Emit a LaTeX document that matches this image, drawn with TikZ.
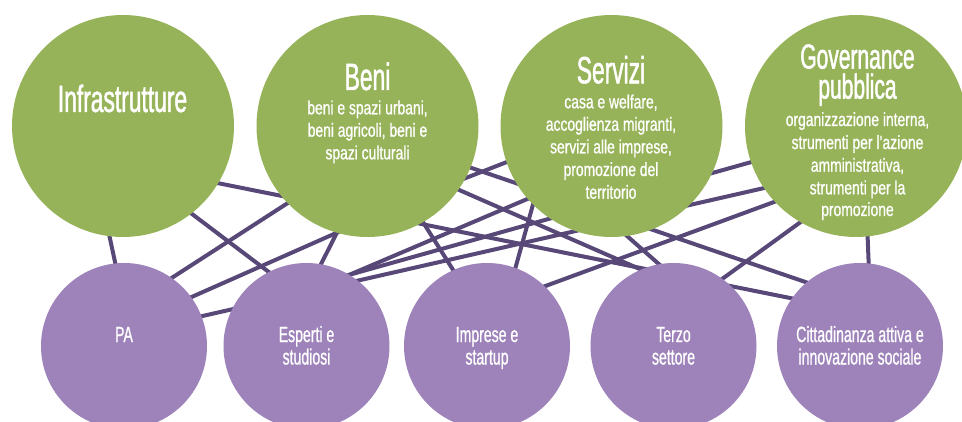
\documentclass[tikz,border=0pt]{standalone}
\usepackage{fontspec}
\setmainfont{Liberation Sans}
\newfontfamily\titlefont[FakeStretch=0.6,FakeBold=1.2]{Liberation Sans}
\newfontfamily\bodyfont[FakeStretch=0.73,FakeBold=0.8]{Liberation Sans}
\newfontfamily\actfont[FakeStretch=0.64,FakeBold=0.8]{Liberation Sans}
\definecolor{gr}{HTML}{97B35A}
\definecolor{pu}{HTML}{9E82BA}
\definecolor{ln}{HTML}{574878}
\pgfdeclarelayer{bg}
\pgfsetlayers{bg,main}
\begin{document}
\begin{tikzpicture}[x=1pt,y=1pt,
  topic/.style={circle,fill=gr,minimum size=222pt,inner sep=0pt,outer sep=0pt,draw=none},
  actor/.style={circle,fill=pu,minimum size=166pt,inner sep=0pt,outer sep=0pt,draw=none},
  ttl/.style={text=white,font=\titlefont\fontsize{38}{38}\selectfont,anchor=base,inner sep=0pt},
  ttlg/.style={text=white,font=\titlefont\fontsize{35}{30}\selectfont,align=center,anchor=north,inner sep=0pt},
  bdy/.style={text=white,font=\bodyfont\fontsize{19}{19}\selectfont,anchor=base,inner sep=0pt},
  act/.style={text=white,font=\actfont\fontsize{22}{22}\selectfont,anchor=base,inner sep=0pt},
  link/.style={draw=ln,line width=4pt,shorten <=-3pt,shorten >=-3pt}]
\useasboundingbox (0,0) rectangle (962,-422);
% topics
\node[topic] (infra) at (123,-126) {};
\node[topic] (beni) at (367.5,-126) {};
\node[topic] (serv) at (611.5,-126) {};
\node[topic] (gov) at (856,-126) {};
% actors
\node[actor] (pa) at (124,-346) {};
\node[actor] (esp) at (306.5,-346) {};
\node[actor] (imp) at (487,-346) {};
\node[actor] (terzo) at (673.5,-346) {};
\node[actor] (citt) at (860,-346) {};
% links
\begin{pgfonlayer}{bg}
\draw[link] (infra.263.3) -- (pa.96.2);
\draw[link] (infra.308.4) -- (esp.117.8);
\draw[link] (infra.329.5) -- (citt.145.5);
\draw[link] (beni.224.8) -- (pa.55.9);
\draw[link] (beni.254.9) -- (pa.36.6);
\draw[link] (beni.254.9) -- (esp.80.5);
\draw[link] (gov.214.3) -- (pa.21.7);
\draw[link] (gov.199.3) -- (esp.59);
\draw[link] (serv.221.8) -- (esp.59);
\draw[link] (beni.300.1) -- (imp.114.1);
\draw[link] (beni.325.3) -- (terzo.113.8);
\draw[link] (beni.338.9) -- (citt.130.3);
\draw[link] (beni.332.6) -- (serv.199.5);
\draw[link] (serv.225.9) -- (imp.70.5);
\draw[link] (gov.223.9) -- (imp.46.5);
\draw[link] (serv.278) -- (terzo.100.6);
\draw[link] (gov.240.9) -- (terzo.54.5);
\draw[link] (gov.276.2) -- (citt.84.5);
\end{pgfonlayer}
% topic texts
\node[ttl] (infraT) at (122.5,-112) {Infrastrutture};
\node[ttl] (beniT) at (367.5,-90) {Beni};
\node[bdy] (beni1) at (367.5,-114.3) {beni e spazi urbani,};
\node[bdy] (beni2) at (367.5,-136.7) {beni agricoli, beni e};
\node[bdy] (beni3) at (367.5,-159.3) {spazi culturali};
\node[ttl] (servT) at (611,-83.3) {Servizi};
\node[bdy] (serv1) at (611,-108.3) {casa e welfare,};
\node[bdy] (serv2) at (611,-130.7) {accoglienza migranti,};
\node[bdy] (serv3) at (611,-153.3) {servizi alle imprese,};
\node[bdy] (serv4) at (611,-176) {promozione del};
\node[bdy] (serv5) at (611,-198.7) {territorio};
\node[ttlg] (govT) at (857.5,-44) {Governance\\pubblica};
\node[bdy] (gov1) at (857.5,-126) {organizzazione interna,};
\node[bdy] (gov2) at (857.5,-149) {strumenti per l’azione};
\node[bdy] (gov3) at (857.5,-171.7) {amministrativa,};
\node[bdy] (gov4) at (857.5,-194.3) {strumenti per la};
\node[bdy] (gov5) at (857.5,-216) {promozione};
% actor texts
\node[act] (paT) at (124,-342) {PA};
\node[act] (esp1) at (306.5,-342) {Esperti e};
\node[act] (esp2) at (306.5,-364.5) {studiosi};
\node[act] (imp1) at (487,-342) {Imprese e};
\node[act] (imp2) at (487,-364.5) {startup};
\node[act] (terzo1) at (673.5,-342) {Terzo};
\node[act] (terzo2) at (673.5,-364.5) {settore};
\node[act] (citt1) at (860,-342) {Cittadinanza attiva e};
\node[act] (citt2) at (860,-364.5) {innovazione sociale};
\end{tikzpicture}
\end{document}
